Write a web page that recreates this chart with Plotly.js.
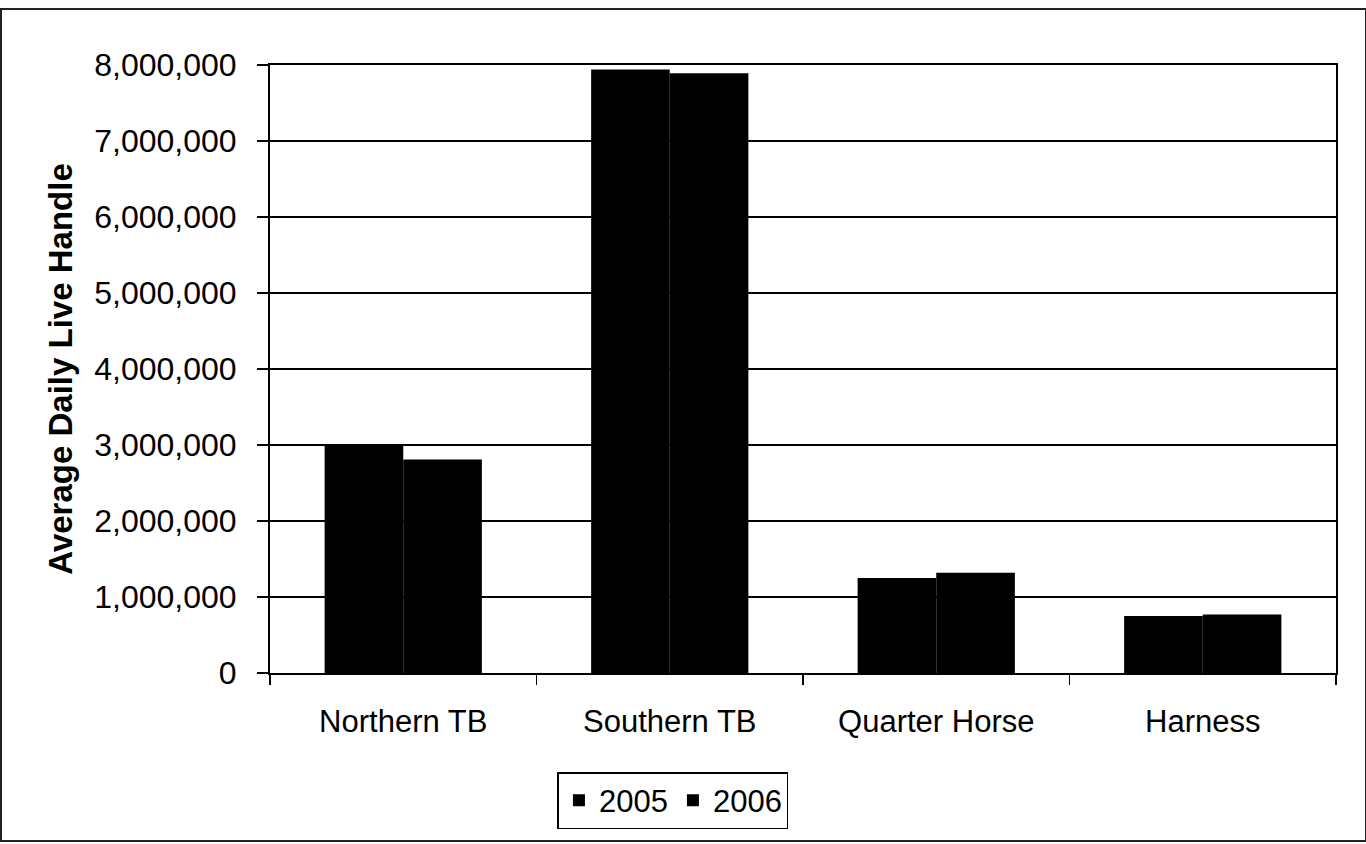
<!DOCTYPE html>
<html>
<head>
<meta charset="utf-8">
<script src="https://cdn.plot.ly/plotly-3.0.1.min.js"></script>
<style>
  html, body { margin: 0; padding: 0; background: #fff; }
  #wrap { position: relative; width: 1366px; height: 844px; }
  #chart { position: absolute; left: 0; top: 0; width: 1366px; height: 844px; }
  #frame { position: absolute; left: 0; top: 8px; width: 1363px; height: 830px; border: 2px solid #222; pointer-events: none; }
</style>
</head>
<body>
<div id="wrap">
  <div id="chart"></div>
  <div id="frame"></div>
</div>
<script>
const categories = ["Northern TB", "Southern TB", "Quarter Horse", "Harness"];
const values2005 = [2990000, 7940000, 1250000, 750000];
const values2006 = [2810000, 7890000, 1320000, 770000];
const yTicks = [0, 1000000, 2000000, 3000000, 4000000, 5000000, 6000000, 7000000, 8000000];

const FONT = "Liberation Sans, Arial, sans-serif";

const traces = [
  { type: "bar", name: "2005", x: categories, y: values2005, marker: { color: "#000", line: { width: 0 } } },
  { type: "bar", name: "2006", x: categories, y: values2006, marker: { color: "#000", line: { width: 0 } } }
];

const layout = {
  width: 1366, height: 844,
  margin: { l: 270, r: 30, t: 65, b: 171 },
  paper_bgcolor: "#fff", plot_bgcolor: "#fff",
  barmode: "group", bargap: 0.41, bargroupgap: 0,
  showlegend: true,
  legend: {
    orientation: "h", x: 0.378, xanchor: "center", y: -0.163, yanchor: "top",
    bordercolor: "#000", borderwidth: 1.5, bgcolor: "#fff",
    font: { family: FONT, size: 31, color: "#000" },
    itemwidth: 30, tracegroupgap: 0
  },
  xaxis: {
    type: "category",
    showline: true, linecolor: "#000", linewidth: 2, mirror: true,
    ticks: "outside", tickson: "boundaries", ticklen: 10, tickcolor: "#000", tickwidth: 1.5,
    ticklabelstandoff: 20,
    tickfont: { family: FONT, size: 31, color: "#000" },
    showgrid: false, zeroline: false
  },
  yaxis: {
    range: [0, 8000000], tickvals: yTicks, tickformat: ",d",
    showline: true, linecolor: "#000", linewidth: 2, mirror: true,
    ticks: "outside", ticklen: 11, tickcolor: "#000", tickwidth: 1.5,
    ticklabelstandoff: 14,
    showgrid: true, gridcolor: "#000", gridwidth: 1.5,
    zeroline: false,
    tickfont: { family: FONT, size: 32, color: "#000" },
    title: { text: "Average Daily Live Handle", font: { family: FONT, size: 33, color: "#000", weight: "bold" }, standoff: 12 }
  }
};

Plotly.newPlot("chart", traces, layout, { staticPlot: true, displayModeBar: false });
</script>
</body>
</html>
